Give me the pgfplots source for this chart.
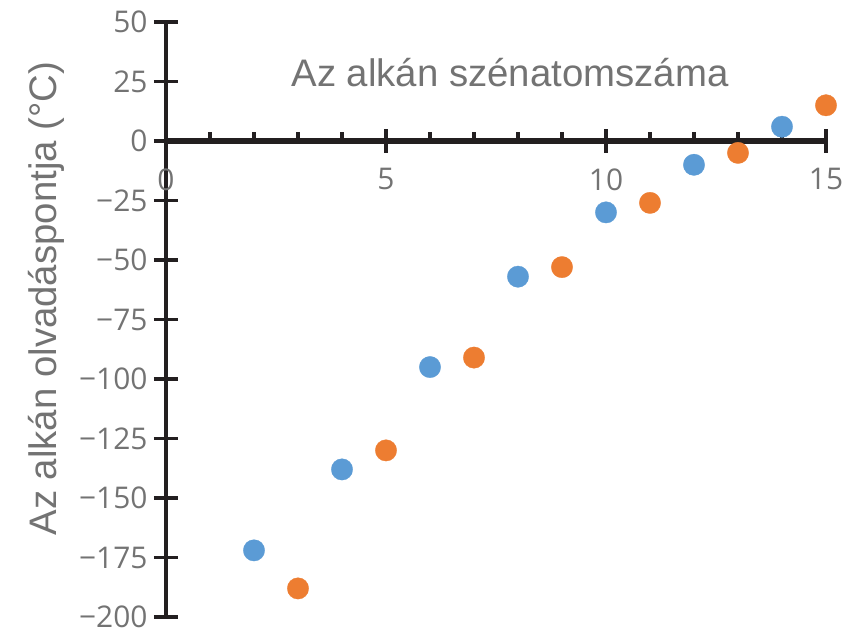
\documentclass[border=0pt]{standalone}
\usepackage{fontspec}
\setmainfont{Liberation Sans}
\newfontfamily\tickfont{Open Sans}
\usepackage{pgfplots}
\pgfplotsset{compat=1.18}
\definecolor{cblue}{RGB}{91,155,213}
\definecolor{corange}{RGB}{237,125,49}
\definecolor{axc}{RGB}{35,31,32}
\definecolor{txt}{RGB}{115,115,115}
\begin{document}
\begin{tikzpicture}
\begin{axis}[
  scale only axis, width=660bp, height=595bp,
  xmin=0, xmax=15, ymin=-200, ymax=50,
  axis lines=middle,
  axis line style={axc, line width=3.5bp, -},
  x axis line style={line width=5.5bp},
  hide obscured x ticks=false, hide obscured y ticks=false,
  xtick={0,5,10,15}, xticklabels={0,5,10,15},
  minor x tick num=4,
  ytick={-200,-175,-150,-125,-100,-75,-50,-25,0,25,50},
  yticklabels={−200,−175,−150,−125,−100,−75,−50,−25,0,25,50},
  tick align=center,
  major tick length=24bp,
  minor tick length=8bp,
  major tick style={axc, line width=3.5bp},
  minor tick style={axc, line width=3.5bp, yshift=4.5bp},
  tick label style={font=\tickfont\fontsize{30}{34}\selectfont, text=txt},
  xticklabel style={yshift=-12bp},
  yticklabel style={xshift=-3bp},
  xlabel={Az alkán szénatomszáma},
  xlabel style={at={(axis cs:7.82,23.1)}, anchor=base, font=\fontsize{38.5}{44}\selectfont, text=txt},
  ylabel={Az alkán olvadáspontja (°C)},
  ylabel style={at={(axis cs:-2.48,-66.2)}, anchor=base, rotate=90, font=\fontsize{38.5}{44}\selectfont, text=txt},
  clip=false,
]
\addplot[only marks, mark=*, mark size=10.7bp, color=cblue, mark options={fill=cblue, draw=cblue, line width=0.3bp}]
  coordinates {(2,-172) (4,-138) (6,-95) (8,-57) (10,-30) (12,-10) (14,6)};
\addplot[only marks, mark=*, mark size=10.7bp, color=corange, mark options={fill=corange, draw=corange, line width=0.3bp}]
  coordinates {(3,-188) (5,-130) (7,-91) (9,-53) (11,-26) (13,-5) (15,15)};
\end{axis}
\pgfresetboundingbox
\useasboundingbox (-166bp,-12bp) rectangle (701bp,617bp);
\end{tikzpicture}
\end{document}
